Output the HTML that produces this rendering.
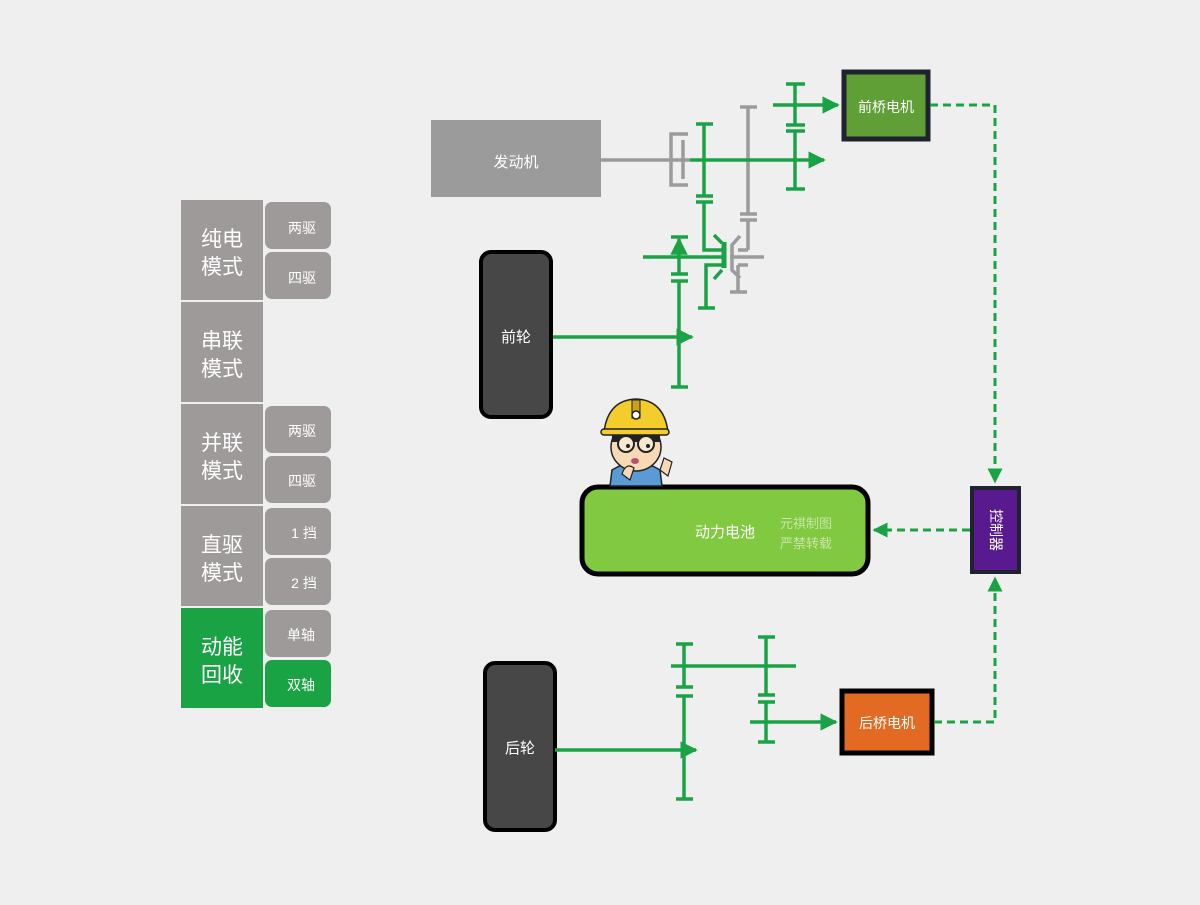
<!DOCTYPE html>
<html><head><meta charset="utf-8"><style>
html,body{margin:0;padding:0;background:#efefef;}
svg text{font-family:"Liberation Sans","Noto Sans CJK SC",sans-serif;}
</style></head><body>
<svg width="1200" height="900" viewBox="0 0 1200 900" xmlns="http://www.w3.org/2000/svg">
<defs>
<marker id="ag" viewBox="0 0 10 10" refX="9" refY="5" markerWidth="5" markerHeight="5" markerUnits="strokeWidth" orient="auto"><path d="M0,0L10,5L0,10z" fill="#1aa345"/></marker>
</defs>
<rect width="1200" height="900" fill="#efefef"/>

<g fill="#9e9a9a">
<rect x="181" y="200" width="82" height="100"/>
<rect x="181" y="302" width="82" height="100"/>
<rect x="181" y="404" width="82" height="100"/>
<rect x="181" y="506" width="82" height="100"/>
<rect x="181" y="608" width="82" height="100" fill="#1aa345"/>
<rect x="265" y="202" width="66" height="47" rx="7"/>
<rect x="265" y="252" width="66" height="47" rx="7"/>
<rect x="265" y="406" width="66" height="47" rx="7"/>
<rect x="265" y="456" width="66" height="47" rx="7"/>
<rect x="265" y="508" width="66" height="47" rx="7"/>
<rect x="265" y="558" width="66" height="47" rx="7"/>
<rect x="265" y="610" width="66" height="47" rx="7"/>
<rect x="265" y="660" width="66" height="47" rx="7" fill="#1aa345"/>
</g>
<g fill="#fff" font-size="21" text-anchor="middle">
<text x="222" y="246">纯电</text><text x="222" y="274">模式</text>
<text x="222" y="348">串联</text><text x="222" y="376">模式</text>
<text x="222" y="450">并联</text><text x="222" y="478">模式</text>
<text x="222" y="552">直驱</text><text x="222" y="580">模式</text>
<text x="222" y="654">动能</text><text x="222" y="682">回收</text>
</g>
<g fill="#fff" font-size="14" text-anchor="middle">
<text x="302" y="233">两驱</text><text x="302" y="283">四驱</text>
<text x="302" y="436">两驱</text><text x="302" y="486">四驱</text>
<text x="304" y="538">1 挡</text><text x="304" y="588">2 挡</text>
<text x="301" y="640">单轴</text><text x="301" y="690">双轴</text>
</g>

<rect x="431" y="120" width="170" height="77" fill="#9b9b9b"/>
<text x="516" y="167" fill="#fff" font-size="15" text-anchor="middle">发动机</text>

<rect x="481" y="252" width="70" height="165" rx="10" fill="#474747" stroke="#000" stroke-width="4"/>
<text x="516" y="342" fill="#fff" font-size="15" text-anchor="middle">前轮</text>
<rect x="485" y="663" width="70" height="167" rx="10" fill="#474747" stroke="#000" stroke-width="4"/>
<text x="520" y="753" fill="#fff" font-size="15" text-anchor="middle">后轮</text>

<g stroke="#9b9b9b" stroke-width="3.5" fill="none">
<line x1="601" y1="160" x2="690" y2="160"/>
<path d="M688,134 L671,134 L671,185 L688,185"/>
<line x1="683" y1="140" x2="683" y2="179"/>
<line x1="748" y1="107" x2="748" y2="214"/>
<line x1="740" y1="107" x2="757" y2="107"/>
<line x1="740" y1="214" x2="757" y2="214"/>
<line x1="740" y1="220" x2="757" y2="220"/>
<line x1="748" y1="220" x2="748" y2="250"/>
<line x1="748" y1="250" x2="738" y2="250"/>
<line x1="730" y1="257" x2="764" y2="257"/>
<path d="M740,236 L732,245 L732,270 L740,278"/>
<line x1="738" y1="265" x2="738" y2="292"/>
<line x1="730" y1="292" x2="747" y2="292"/>
<line x1="738" y1="265" x2="748" y2="265"/>
</g>
<g stroke="#1aa345" stroke-width="3.5" fill="none">
<line x1="690" y1="160" x2="824" y2="160" marker-end="url(#ag)"/>
<line x1="704" y1="124" x2="704" y2="196"/>
<line x1="696" y1="124" x2="713" y2="124"/>
<line x1="696" y1="196" x2="713" y2="196"/>
<line x1="696" y1="202" x2="713" y2="202"/>
<path d="M704,202 L704,250 L722,250"/>
<path d="M706,308 L706,265 L722,265"/>
<line x1="698" y1="308" x2="715" y2="308"/>
<line x1="643" y1="257" x2="724" y2="257"/>
<line x1="724" y1="242" x2="724" y2="268" stroke-width="5"/>
<path d="M714,235 L722,243 M714,279 L722,270"/>
<line x1="773" y1="105" x2="838" y2="105" marker-end="url(#ag)"/>
<line x1="795" y1="84" x2="795" y2="125"/>
<line x1="786" y1="84" x2="805" y2="84"/>
<line x1="786" y1="125" x2="805" y2="125"/>
<line x1="786" y1="131" x2="805" y2="131"/>
<line x1="795" y1="131" x2="795" y2="189"/>
<line x1="786" y1="189" x2="805" y2="189"/>
<line x1="679" y1="274" x2="679" y2="239" marker-end="url(#ag)"/>
<line x1="671" y1="237" x2="688" y2="237"/>
<line x1="671" y1="274" x2="688" y2="274"/>
<line x1="671" y1="281" x2="688" y2="281"/>
<line x1="679" y1="281" x2="679" y2="387"/>
<line x1="671" y1="387" x2="688" y2="387"/>
<line x1="553" y1="337" x2="692" y2="337" marker-end="url(#ag)"/>
</g>

<g stroke="#1aa345" stroke-width="3.5" fill="none">
<line x1="684" y1="644" x2="684" y2="687"/>
<line x1="676" y1="644" x2="693" y2="644"/>
<line x1="671" y1="666" x2="796" y2="666"/>
<line x1="676" y1="687" x2="693" y2="687"/>
<line x1="676" y1="696" x2="693" y2="696"/>
<line x1="684" y1="696" x2="684" y2="799"/>
<line x1="676" y1="799" x2="693" y2="799"/>
<line x1="766" y1="637" x2="766" y2="695"/>
<line x1="758" y1="637" x2="775" y2="637"/>
<line x1="758" y1="695" x2="775" y2="695"/>
<line x1="758" y1="702" x2="775" y2="702"/>
<line x1="766" y1="702" x2="766" y2="742"/>
<line x1="758" y1="742" x2="775" y2="742"/>
<line x1="750" y1="722" x2="836" y2="722" marker-end="url(#ag)"/>
<line x1="555" y1="750" x2="696" y2="750" marker-end="url(#ag)"/>
</g>

<rect x="844" y="72" width="84" height="67" fill="#5f9f35" stroke="#1f2330" stroke-width="5"/>
<text x="886" y="112" fill="#fff" font-size="14" text-anchor="middle">前桥电机</text>
<rect x="842" y="691" width="90" height="62" fill="#e36a22" stroke="#000" stroke-width="5"/>
<text x="887" y="728" fill="#fff" font-size="14" text-anchor="middle">后桥电机</text>

<rect x="582" y="487" width="286" height="87" rx="16" fill="#80c940" stroke="#000" stroke-width="5"/>
<text x="725" y="537" fill="#fff" font-size="15" text-anchor="middle">动力电池</text>
<text x="806" y="528" fill="#c8e6a8" font-size="13" text-anchor="middle">元祺制图</text>
<text x="806" y="548" fill="#c8e6a8" font-size="13" text-anchor="middle">严禁转载</text>

<rect x="972" y="488" width="47" height="84" fill="#5a1a8f" stroke="#1f2330" stroke-width="4"/>
<text x="0" y="0" fill="#fff" font-size="14" text-anchor="middle" transform="translate(991,530) rotate(90)">控制器</text>

<g stroke="#1aa345" stroke-width="3" fill="none" stroke-dasharray="8,5">
<path d="M930,105 L995,105 L995,482" marker-end="url(#ag)"/>
<path d="M970,530 L874,530" marker-end="url(#ag)"/>
<path d="M934,722 L995,722 L995,578" marker-end="url(#ag)"/>
</g>

<g>
<path d="M612,470 Q636,455 660,470 L662,486 L610,486z" fill="#5b9bd5" stroke="#222" stroke-width="1.5"/>
<ellipse cx="636" cy="447" rx="25" ry="24" fill="#f6d9b5" stroke="#222" stroke-width="1.5"/>
<rect x="612" y="434" width="48" height="8" fill="#222"/>
<circle cx="626" cy="444" r="8" fill="#f8e8d0" stroke="#222" stroke-width="2"/>
<circle cx="646" cy="444" r="8" fill="#f8e8d0" stroke="#222" stroke-width="2"/>
<circle cx="628" cy="446" r="2" fill="#222"/><circle cx="648" cy="446" r="2" fill="#222"/>
<ellipse cx="635" cy="461" rx="4" ry="3" fill="#c05070"/>
<path d="M604,432 Q608,400 636,399 Q664,400 668,432 Z" fill="#f2cd2b" stroke="#222" stroke-width="1.5"/>
<rect x="601" y="429" width="68" height="6" rx="3" fill="#f2cd2b" stroke="#222" stroke-width="1.5"/>
<rect x="632" y="400" width="8" height="18" fill="#c9a020" stroke="#222" stroke-width="1"/>
<circle cx="636" cy="415" r="4" fill="#fff" stroke="#222" stroke-width="1.5"/>
<path d="M660,470 L664,458 L672,462 L668,476 Z" fill="#f6d9b5" stroke="#222" stroke-width="1.2"/>
<path d="M622,474 Q626,462 634,468 L630,480 Z" fill="#f6d9b5" stroke="#222" stroke-width="1.2"/>
</g>
</svg>
</body></html>
